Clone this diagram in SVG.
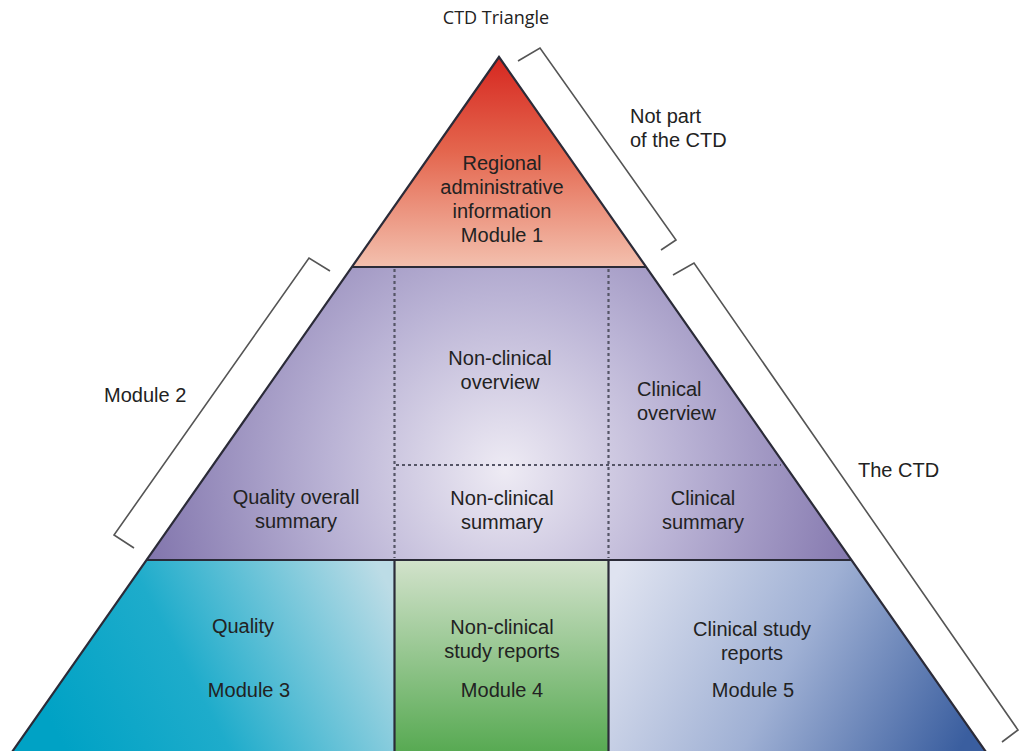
<svg xmlns="http://www.w3.org/2000/svg" width="1020" height="751" viewBox="0 0 1020 751">
<style>
text{font-family:"Liberation Sans",Arial,sans-serif;font-size:20px;fill:#222}
.c{text-anchor:middle}
.edge{fill:none;stroke:#2b2b38;stroke-width:2.2}
.dash{fill:none;stroke:#555566;stroke-width:2.2;stroke-dasharray:3 3}
.br{fill:none;stroke:#555;stroke-width:1.6}
</style>
<defs>
<linearGradient id="g1" x1="0" y1="57" x2="0" y2="267" gradientUnits="userSpaceOnUse">
<stop offset="0" stop-color="#d62720"/><stop offset="0.45" stop-color="#e4664e"/><stop offset="1" stop-color="#f3c0ae"/>
</linearGradient>
<radialGradient id="g2" cx="505" cy="470" r="390" gradientUnits="userSpaceOnUse">
<stop offset="0" stop-color="#eeebf4"/><stop offset="0.45" stop-color="#bab3d5"/><stop offset="1" stop-color="#7b6ea8"/>
</radialGradient>
<linearGradient id="g3" x1="60" y1="740" x2="380" y2="570" gradientUnits="userSpaceOnUse">
<stop offset="0" stop-color="#00a2c5"/><stop offset="0.4" stop-color="#1eaccb"/><stop offset="1" stop-color="#bcdce6"/>
</linearGradient>
<linearGradient id="g4" x1="0" y1="560" x2="0" y2="751" gradientUnits="userSpaceOnUse">
<stop offset="0" stop-color="#d2e2cb"/><stop offset="1" stop-color="#58aa53"/>
</linearGradient>
<linearGradient id="g5" x1="620" y1="570" x2="960" y2="750" gradientUnits="userSpaceOnUse">
<stop offset="0" stop-color="#dfe3f0"/><stop offset="0.5" stop-color="#9fb0d4"/><stop offset="1" stop-color="#3a5e9f"/>
</linearGradient>
</defs>

<text x="496" y="24" style="font-family:'Open Sans','Liberation Sans',sans-serif;font-size:18px" class="c">CTD Triangle</text>

<g id="module1">
<polygon points="499,57 352,267 646,267" fill="url(#g1)"/>
<text x="502" y="170" class="c">Regional</text>
<text x="502" y="194" class="c">administrative</text>
<text x="502" y="218" class="c">information</text>
<text x="502" y="242" class="c">Module 1</text>
</g>

<g id="module2">
<polygon points="352,267 646,267 851,560 147,560" fill="url(#g2)"/>
<line class="dash" x1="394.5" y1="269" x2="394.5" y2="558"/>
<line class="dash" x1="608.5" y1="269" x2="608.5" y2="558"/>
<line class="dash" x1="396" y1="465" x2="781" y2="465"/>
<text x="296" y="504" class="c">Quality overall</text>
<text x="296" y="528" class="c">summary</text>
<text x="500" y="365" class="c">Non-clinical</text>
<text x="500" y="389" class="c">overview</text>
<text x="502" y="505" class="c">Non-clinical</text>
<text x="502" y="529" class="c">summary</text>
<text x="637" y="396">Clinical</text>
<text x="637" y="420">overview</text>
<text x="703" y="505" class="c">Clinical</text>
<text x="703" y="529" class="c">summary</text>
</g>

<g id="module3">
<polygon points="147,560 394.5,560 394.5,752 12,752" fill="url(#g3)"/>
<text x="243" y="633" class="c">Quality</text>
<text x="249" y="697" class="c">Module 3</text>
</g>

<g id="module4">
<rect x="394.5" y="560" width="214" height="192" fill="url(#g4)"/>
<text x="502" y="634" class="c">Non-clinical</text>
<text x="502" y="658" class="c">study reports</text>
<text x="502" y="697" class="c">Module 4</text>
</g>

<g id="module5">
<polygon points="608.5,560 851,560 986,752 608.5,752" fill="url(#g5)"/>
<text x="752" y="636" class="c">Clinical study</text>
<text x="752" y="660" class="c">reports</text>
<text x="753" y="697" class="c">Module 5</text>
</g>

<g id="outline">
<polygon class="edge" points="499,57 12,752 986,752"/>
<line class="edge" x1="352" y1="267" x2="646" y2="267"/>
<line class="edge" x1="147" y1="560" x2="851" y2="560"/>
<line class="edge" x1="394.5" y1="560" x2="394.5" y2="752"/>
<line class="edge" x1="608.5" y1="560" x2="608.5" y2="752"/>
</g>

<g id="connectors">
<polyline class="br" points="518,61 540,48 676,240 661,250"/>
<polyline class="br" points="673,275 694,263 1018,730 1002,742"/>
<polyline class="br" points="330,271 309,258 114,535 134,548"/>
</g>

<g id="labels">
<text x="630" y="123">Not part</text>
<text x="630" y="147">of the CTD</text>
<text x="104" y="402">Module 2</text>
<text x="858" y="477">The CTD</text>
</g>
</svg>
